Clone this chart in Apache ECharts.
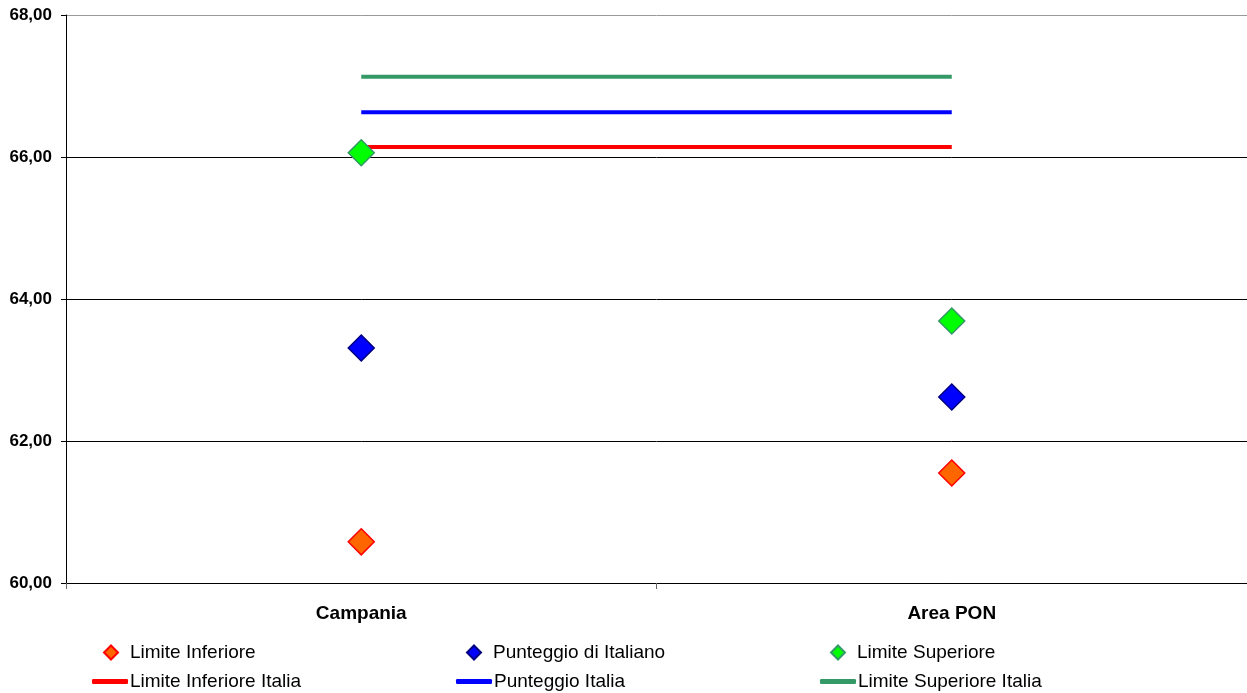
<!DOCTYPE html>
<html><head><meta charset="utf-8">
<script src="https://cdn.jsdelivr.net/npm/echarts@6/dist/echarts.min.js"></script>
<style>html,body{margin:0;padding:0;background:#fff}#c{width:1247px;height:693px}</style>
</head><body><div id="c"></div>
<script>
var categories = ['Campania', 'Area PON'];
var limiteInferiore = [60.58, 61.55];
var punteggio = [63.31, 62.62];
var limiteSuperiore = [66.06, 63.69];
var limInfItalia = [66.14, 66.14];
var puntItalia = [66.63, 66.63];
var limSupItalia = [67.13, 67.13];
var yTicks = { min: 60, max: 68, interval: 2 };

var FONT = '"Liberation Sans", Arial, sans-serif';
function dia(name, data, fill, border) {
  return { name: name, type: 'scatter', data: data, symbol: 'diamond', symbolSize: 26,
    itemStyle: { color: fill, borderColor: border, borderWidth: 1.5, opacity: 1 }, z: 5 };
}
function ln(name, data, color) {
  return { name: name, type: 'line', data: data, symbol: 'none', showSymbol: false,
    lineStyle: { color: color, width: 4 }, itemStyle: { color: color }, z: 3 };
}
function leg(name, left, top, isLine) {
  return { data: [name], left: left, top: top, orient: 'horizontal', padding: 0,
    icon: isLine ? 'roundRect' : 'diamond',
    itemWidth: isLine ? 36 : 14, itemHeight: isLine ? 5 : 14, itemGap: 0,
    textStyle: { fontFamily: FONT, fontSize: 19, color: '#000', padding: [0, 0, 0, isLine ? -3 : 7] },
    selectedMode: false };
}
var chart = echarts.init(document.getElementById('c'));
chart.setOption({
  animation: false,
  grid: { left: 66, right: 0, top: 15, bottom: 110 },
  xAxis: { type: 'category', data: categories, boundaryGap: true,
    axisLine: { lineStyle: { color: '#000', width: 1 } },
    axisTick: { show: true, length: 6, lineStyle: { color: '#666' } },
    axisLabel: { fontFamily: FONT, fontSize: 19, fontWeight: 'bold', color: '#000', margin: 21 } },
  yAxis: { type: 'value', min: yTicks.min, max: yTicks.max, interval: yTicks.interval,
    axisLine: { show: true, lineStyle: { color: '#000' } },
    axisTick: { show: true, length: 5, lineStyle: { color: '#000' } },
    splitLine: { lineStyle: { color: ['#000', '#000', '#000', '#000', '#999'], width: 1 } },
    axisLabel: { fontFamily: FONT, fontSize: 17, fontWeight: 'bold', color: '#000', margin: 14,
      padding: [2, 0, 0, 0],
      formatter: function (v) { return v.toFixed(2).replace('.', ','); } } },
  legend: [
    leg('Limite Inferiore', 103, 643, false),
    leg('Punteggio di Italiano', 466, 643, false),
    leg('Limite Superiore', 830, 643, false),
    leg('Limite Inferiore Italia', 92, 672, true),
    leg('Punteggio Italia', 456, 672, true),
    leg('Limite Superiore Italia', 820, 672, true)
  ],
  series: [
    dia('Limite Inferiore', limiteInferiore, '#FF6600', '#FF0000'),
    dia('Punteggio di Italiano', punteggio, '#0000FF', '#000080'),
    dia('Limite Superiore', limiteSuperiore, '#00FF00', '#339966'),
    ln('Limite Inferiore Italia', limInfItalia, '#FF0000'),
    ln('Punteggio Italia', puntItalia, '#0000FF'),
    ln('Limite Superiore Italia', limSupItalia, '#339966')
  ]
});
</script></body></html>
